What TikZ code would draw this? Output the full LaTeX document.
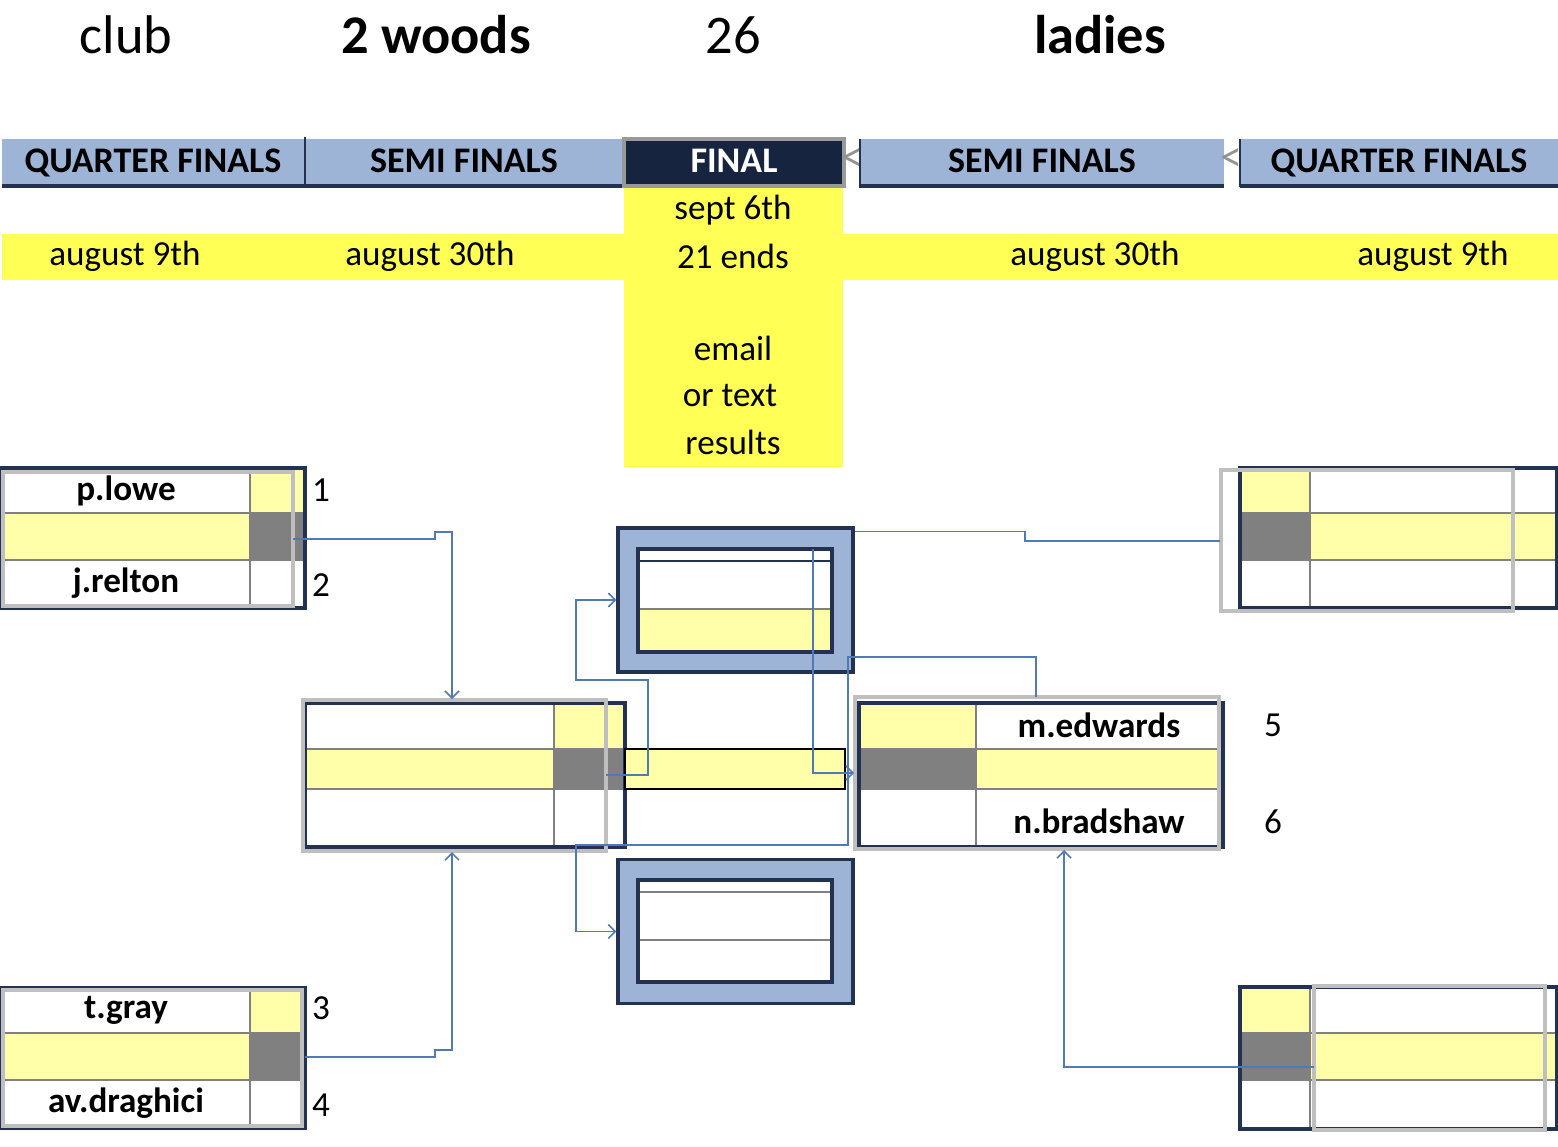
\documentclass[tikz,border=0pt]{standalone}
\usepackage{fontspec}
\setmainfont{Carlito}
\usetikzlibrary{arrows.meta,positioning}
\definecolor{HeadBlue}{RGB}{157,180,214}
\definecolor{HeadNavy}{RGB}{22,36,63}
\definecolor{EdgeNavy}{RGB}{35,50,80}
\definecolor{SunYellow}{RGB}{255,255,85}
\definecolor{PaleYellow}{RGB}{255,255,170}
\definecolor{ScoreGray}{RGB}{128,128,128}
\definecolor{FrameSilver}{RGB}{191,191,191}
\definecolor{LinkBlue}{RGB}{80,122,180}
\tikzset{
  toptext/.style={font=\fontsize{31}{36}\selectfont, inner sep=0pt},
  headtext/.style={font=\fontsize{20.5}{24}\selectfont\bfseries, inner sep=0pt, anchor=base},
  celltext/.style={font=\fontsize{20}{24}\selectfont, inner sep=0pt},
  nametext/.style={font=\fontsize{20}{24}\selectfont\bfseries, inner sep=0pt},
  gridline/.style={ScoreGray, line width=0.9pt},
  outerline/.style={EdgeNavy, line width=2pt},
  silverline/.style={FrameSilver, line width=2.4pt},
  finalbox/.style={draw=EdgeNavy, fill=HeadBlue, line width=1.8pt, inner sep=0pt,
    minimum width=4.7cm, minimum height=2.88cm},
  link/.style={LinkBlue, line width=0.9pt},
  linkarrow/.style={link, -{Straight Barb[length=4pt,width=8pt]}}
}

\begin{document}
\begin{tikzpicture}[x=0.02cm, y=-0.02cm]
    \useasboundingbox (0,0) rectangle (1558,1146);
    % Title line
    \node[toptext] (club) at (126,35) {club};
    \node[toptext, font=\fontsize{31}{36}\selectfont\bfseries] (woods) at (436,35) {2 woods};
    \node[toptext] (count) at (733,35) {26};
    \node[toptext, font=\fontsize{31}{36}\selectfont\bfseries] (ladies) at (1100,35) {ladies};
    % Dates in yellow
    \fill[SunYellow] (2,234) rectangle (1558,280);
    \fill[SunYellow] (624,187) rectangle (843,467);
    % Round headers
    \fill[HeadBlue] (2,139) rectangle (622,186);
    \fill[HeadBlue] (860,139) rectangle (1224,186);
    \fill[HeadBlue] (1240,139) rectangle (1558,186);
    \draw[EdgeNavy, line width=2.2pt] (2,186) -- (622,186) (859,186) -- (1224,186) (1240,186) -- (1558,186);
    \draw[EdgeNavy, line width=1.6pt] (305,137) -- (305,186) (860,139) -- (860,187) (1240,139) -- (1240,187);
    \draw[fill=HeadNavy, draw=gray!80, line width=1.8pt] (624,139) rectangle (844,186);
    \node[headtext] (hqfA) at (153,172) {QUARTER FINALS};
    \node[headtext] (hsfA) at (464,172) {SEMI FINALS};
    \node[headtext, text=white] (hfin) at (734,172) {FINAL};
    \node[headtext] (hsfB) at (1042,172) {SEMI FINALS};
    \node[headtext] (hqfB) at (1399,172) {QUARTER FINALS};
    \node[celltext, font=\fontsize{25}{28}\selectfont, text=gray!85] (ltA) at (852,160) {<};
    \node[celltext, font=\fontsize{25}{28}\selectfont, text=gray!85] (ltB) at (1231,160) {<};
    \node[celltext] (dqfA) at (125,256) {august 9th};
    \node[celltext] (dsfA) at (430,256) {august 30th};
    \node[celltext] (dfinA) at (733,210) {sept 6th};
    \node[celltext] (dfinB) at (733,256) {21 ends};
    \node[celltext] (dsfB) at (1095,256) {august 30th};
    \node[celltext] (dqfB) at (1433,256) {august 9th};
    \node[celltext] (mailA) at (733,348) {email};
    \node[celltext] (mailB) at (730,396) {or text};
    \node[celltext] (mailC) at (733,442) {results};

    % Left quarter final, top
    \fill[PaleYellow] (2,513) rectangle (250,560);
    \fill[PaleYellow] (250,468) rectangle (305,513);
    \fill[ScoreGray] (250,513) rectangle (305,560);
    \draw[gridline] (2,513) -- (305,513) (2,560) -- (305,560) (250,468) -- (250,608);
    \draw[outerline] (2,468) rectangle (305,608);
    \draw[silverline] (3,472) rectangle (293,606);
    \node[nametext] (lowe) at (126,491) {p.lowe};
    \node[nametext] (relton) at (126,583) {j.relton};
    \node[celltext] (seedA) at (321,490) {1};
    \node[celltext] (seedB) at (321,585) {2};
    % Left quarter final, bottom
    \fill[PaleYellow] (2,1033) rectangle (250,1080);
    \fill[PaleYellow] (250,988) rectangle (305,1033);
    \fill[ScoreGray] (250,1033) rectangle (305,1080);
    \draw[gridline] (2,1033) -- (305,1033) (2,1080) -- (305,1080) (250,988) -- (250,1128);
    \draw[outerline] (2,988) rectangle (305,1128);
    \draw[silverline] (3,990) rectangle (302,1126);
    \node[nametext] (gray) at (126,1010) {t.gray};
    \node[nametext] (draghici) at (126,1103) {av.draghici};
    \node[celltext] (seedC) at (321,1008) {3};
    \node[celltext] (seedD) at (321,1105) {4};

    % Left semi final
    \fill[PaleYellow] (305,749) rectangle (554,789);
    \fill[PaleYellow] (554,703) rectangle (625,749);
    \fill[ScoreGray] (554,749) rectangle (625,789);
    \draw[gridline] (305,749) -- (625,749) (305,789) -- (625,789) (554,703) -- (554,847);
    \draw[outerline] (305,703) rectangle (625,847);
    \draw[silverline] (303,700) rectangle (606,851);
    \draw[fill=PaleYellow, draw=black, line width=0.9pt] (625,749) rectangle (845,789);

    % Right semi final
    \fill[PaleYellow] (859,703) rectangle (976,749);
    \fill[ScoreGray] (859,749) rectangle (976,789);
    \fill[PaleYellow] (976,749) rectangle (1223,789);
    \draw[gridline] (859,749) -- (1223,749) (859,789) -- (1223,789) (976,703) -- (976,847);
    \draw[outerline] (859,703) rectangle (1223,847);
    \draw[silverline] (855,697) rectangle (1219,849);
    \node[nametext] (edwards) at (1099,725) {m.edwards};
    \node[nametext] (bradshaw) at (1099,821) {n.bradshaw};
    \node[celltext] (seedE) at (1273,725) {5};
    \node[celltext] (seedF) at (1273,822) {6};

    % Right quarter final, top
    \fill[PaleYellow] (1240,468) rectangle (1310,513);
    \fill[ScoreGray] (1240,513) rectangle (1310,560);
    \fill[PaleYellow] (1310,513) rectangle (1558,560);
    \draw[gridline] (1240,513) -- (1558,513) (1240,560) -- (1558,560) (1310,468) -- (1310,608);
    \draw[outerline] (1240,468) rectangle (1557,608);
    \draw[silverline] (1221,470) rectangle (1513,611);
    % Right quarter final, bottom
    \fill[PaleYellow] (1240,987) rectangle (1310,1033);
    \fill[ScoreGray] (1240,1033) rectangle (1310,1080);
    \fill[PaleYellow] (1310,1033) rectangle (1558,1080);
    \draw[gridline] (1240,1033) -- (1558,1033) (1240,1080) -- (1558,1080) (1310,987) -- (1310,1129);
    \draw[outerline] (1240,987) rectangle (1557,1129);
    \draw[silverline] (1314,986) rectangle (1545,1130);

    % Final boxes
    \node[finalbox] (finA) at (735.5,600) {};
    \fill[white] (638,549) rectangle (832,609);
    \fill[PaleYellow] (638,609) rectangle (832,652);
    \draw[gridline] (638,609) -- (832,609);
    \draw[EdgeNavy, line width=1pt] (638,561) -- (832,561);
    \draw[EdgeNavy, line width=1.8pt] (638,549) rectangle (832,652);
    \node[finalbox] (finB) at (735.5,931.5) {};
    \fill[white] (638,880) rectangle (832,982);
    \draw[gridline] (638,892) -- (832,892) (638,940) -- (832,940);
    \draw[EdgeNavy, line width=1.8pt] (638,880) rectangle (832,982);

    % Link ends
    \coordinate (qfA-out) at (293,539);
    \coordinate (qfB-out) at (305,1057);
    \coordinate (qfC-out) at (1220,541);
    \coordinate (qfD-out) at (1314,1067);
    \coordinate (sfA-top) at (452,699);
    \coordinate (sfA-bot) at (452,852);
    \coordinate (sfA-out) at (606,775);
    \coordinate (sfB-top) at (1036,697);
    \coordinate (sfB-in) at (854,773);
    \coordinate (sfB-bot) at (1064,850);
    \coordinate (finA-drop) at (813,549);
    \coordinate (finA-side) at ([yshift=-0.1cm]finA.north east);

    % Links
    \draw[linkarrow] (qfA-out) -- ++(142,0) -- ++(0,-7) -| (sfA-top);
    \draw[linkarrow] (qfB-out) -- ++(130,0) -- ++(0,-7) -| (sfA-bot);
    \draw[linkarrow] (sfA-out) -- ++(42,0) -- ++(0,-95) -- ++(-72,0) |- (finA.west);
    \draw[linkarrow] (finA-drop) |- (sfB-in);
    \draw[link] (qfC-out) -- ++(-195,0) |- (finA-side);
    \draw[linkarrow] (sfB-top) -- ++(0,-40) -- ++(-188,0) -- ++(0,188) -- ++(-272,0) |- (finB.west);
    \draw[linkarrow] (qfD-out) -| (sfB-bot);
\end{tikzpicture}
\end{document}
